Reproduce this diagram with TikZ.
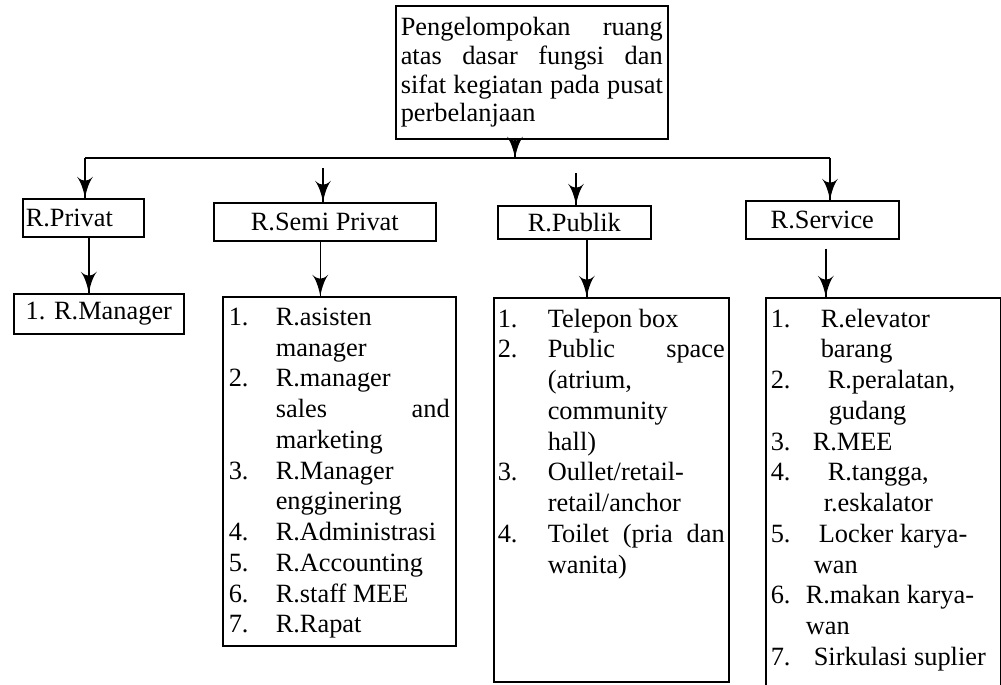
\documentclass[tikz,border=0pt]{standalone}
\usepackage{fontspec}
\setmainfont{Liberation Serif}
\usetikzlibrary{arrows}
\usetikzlibrary{decorations.markings}
\tikzset{arrowdown/.style = {decoration={markings,
                                  mark=at position 1 with {\arrow[scale=2.2]{latex'}}},
                      postaction={decorate}}}
\tikzset{room/.style = {draw, line width = 0.9pt, anchor = north west,
                        inner sep = 0, minimum height = 7.6mm}}
\tikzset{roomlist/.style = {draw, line width = 0.9pt, anchor = north west, inner ysep = 2.2mm}}
\newcommand{\rline}[3][9.4mm]{\makebox[#1][l]{#2}#3}
\newcommand{\rcont}[2][9.4mm]{\hspace*{#1}#2}
\newcommand{\spread}{\nobreak\hspace{0.25em plus 1fill}}

\begin{document}
\begin{tikzpicture}[x = 0.2mm, y = -0.2mm, line width = 0.9pt,
                    every node/.style = {font = \fontsize{15}{17.5}\selectfont}]
    \useasboundingbox (0, 0) rectangle (1001, 685);

    \node [draw, anchor = north west, minimum width = 54.4mm, minimum height = 26.6mm,
           text width = 52.4mm, inner xsep = 1mm, align = left,
           font = \fontsize{15}{16.4}\selectfont] (groups) at (395, 5)
        {Pengelompokan\spread ruang\\
         atas\spread dasar\spread fungsi\spread dan\\
         sifat\spread kegiatan\spread pada\spread pusat\\
         perbelanjaan};

    \node [room, minimum width = 24.2mm, text width = 23mm, align = left] (privat) at (22, 198) {R.Privat};
    \node [room, minimum width = 44.4mm] (semi) at (213, 202) {R.Semi Privat};
    \node [room, minimum width = 30.6mm, minimum height = 6.6mm] (publik) at (497, 205) {R.Publik};
    \node [room, minimum width = 30.6mm] (service) at (745, 200) {R.Service};

    \node [room, minimum width = 34mm, minimum height = 8mm] (manager) at (13, 293) {1. R.Manager};

    \node [roomlist, inner xsep = 1.2mm] (semilist) at (222, 296)
        {\parbox[c][65.4mm][t]{44.2mm}{%
         \rline{1.}{R.asisten}\\
         \rcont{manager}\\
         \rline{2.}{R.manager}\\
         \rcont{sales\hfill and}\\
         \rcont{marketing}\\
         \rline{3.}{R.Manager}\\
         \rcont{engginering}\\
         \rline{4.}{R.Administrasi}\\
         \rline{5.}{R.Accounting}\\
         \rline{6.}{R.staff MEE}\\
         \rline{7.}{R.Rapat}}};

    \node [roomlist, inner xsep = 0.8mm] (publiklist) at (493, 297)
        {\parbox[c][72.4mm][t]{45.4mm}{%
         \rline[10mm]{1.}{Telepon box}\\
         \rline[10mm]{2.}{Public\spread space}\\
         \rcont[10mm]{(atrium,}\\
         \rcont[10mm]{community}\\
         \rcont[10mm]{hall)}\\
         \rline[10mm]{3.}{Oullet/retail-}\\
         \rcont[10mm]{retail/anchor}\\
         \rline[10mm]{4.}{Toilet\spread (pria\spread dan}\\
         \rcont[10mm]{wanita)}}};

    \node [roomlist, inner xsep = 1mm] (servicelist) at (765, 297)
        {\parbox[c][74.2mm][t]{45mm}{%
         \rline[10mm]{1.}{R.elevator}\\
         \rcont[10mm]{barang}\\
         \rline[11.4mm]{2.}{R.peralatan,}\\
         \rcont[11.6mm]{gudang}\\
         \rline[8.4mm]{3.}{R.MEE}\\
         \rline[11.4mm]{4.}{R.tangga,}\\
         \rcont[10.6mm]{r.eskalator}\\
         \rline[9.6mm]{5.}{Locker karya-}\\
         \rcont[8.6mm]{wan}\\
         \rline[7mm]{6.}{R.makan karya-}\\
         \rcont[7mm]{wan}\\
         \rline[8.6mm]{7.}{Sirkulasi suplier}}};

    % branching bar
    \coordinate (join) at (515, 158);
    \coordinate (barleft) at (85, 158);
    \coordinate (barright) at (830, 158);
    \coordinate (semitop) at (323, 168);
    \coordinate (publiktop) at (576, 173);

    \draw [arrowdown] (groups.south -| join) -- (join);
    \draw (barleft) -- (barright);
    \draw [arrowdown] (barleft) -- (barleft |- privat.north);
    \draw [arrowdown] (semitop) -- (semitop |- semi.north);
    \draw [arrowdown] (publiktop) -- (publiktop |- publik.north);
    \draw [arrowdown] (barright) -- (barright |- service.north);

    \draw [arrowdown] ([xshift = 1.1mm]privat.south) -- ([xshift = 1.1mm]privat.south |- manager.north);
    \draw [arrowdown] ([xshift = -0.9mm]semi.south) -- ([xshift = -0.9mm]semi.south |- semilist.north);
    \draw [arrowdown] ([xshift = 2.5mm]publik.south) -- ([xshift = 2.5mm]publik.south |- publiklist.north);
    \draw [arrowdown] ([xshift = 0.7mm, yshift = -1.8mm]service.south)
        -- ([xshift = 0.7mm]service.south |- servicelist.north);
\end{tikzpicture}
\end{document}
